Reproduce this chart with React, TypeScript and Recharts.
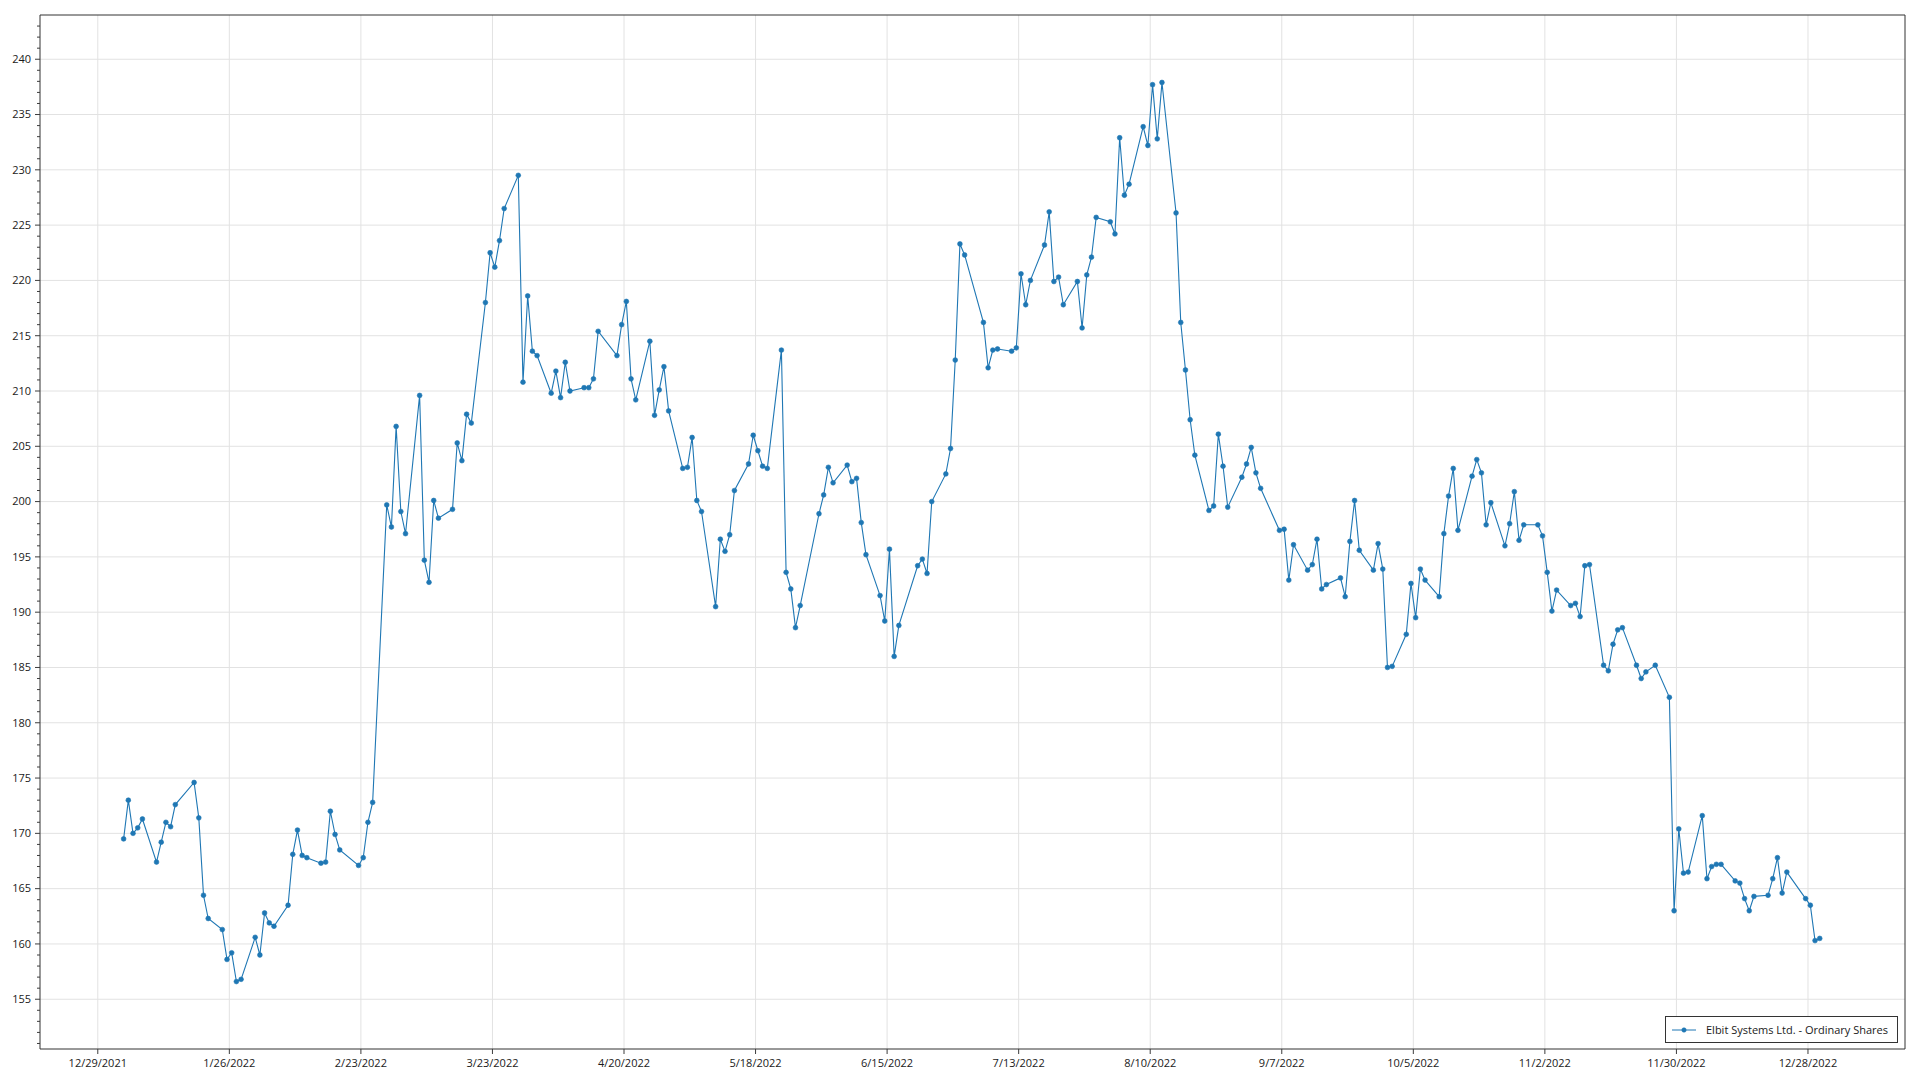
import React from 'react';
import { LineChart, Line, XAxis, YAxis, CartesianGrid, ReferenceArea } from 'recharts';

// trading days (day of month) per month of 2022 and closing prices
const TRADING_DAYS: number[][] = [
  [3, 4, 5, 6, 7, 10, 11, 12, 13, 14, 18, 19, 20, 21, 24, 25, 26, 27, 28, 31],
  [1, 2, 3, 4, 7, 8, 9, 10, 11, 14, 15, 16, 17, 18, 22, 23, 24, 25, 28],
  [1, 2, 3, 4, 7, 8, 9, 10, 11, 14, 15, 16, 17, 18, 21, 22, 23, 24, 25, 28, 29, 30, 31],
  [1, 4, 5, 6, 7, 8, 11, 12, 13, 14, 18, 19, 20, 21, 22, 25, 26, 27, 28, 29],
  [2, 3, 4, 5, 6, 9, 10, 11, 12, 13, 16, 17, 18, 19, 20, 23, 24, 25, 26, 27, 31],
  [1, 2, 3, 6, 7, 8, 9, 10, 13, 14, 15, 16, 17, 21, 22, 23, 24, 27, 28, 29, 30],
  [1, 5, 6, 7, 8, 11, 12, 13, 14, 15, 18, 19, 20, 21, 22, 25, 26, 27, 28, 29],
  [1, 2, 3, 4, 5, 8, 9, 10, 11, 12, 15, 16, 17, 18, 19, 22, 23, 24, 25, 26, 29, 30, 31],
  [1, 2, 6, 7, 8, 9, 12, 13, 14, 15, 16, 19, 20, 21, 22, 23, 26, 27, 28, 29, 30],
  [3, 4, 5, 6, 7, 10, 11, 12, 13, 14, 17, 18, 19, 20, 21, 24, 25, 26, 27, 28, 31],
  [1, 2, 3, 4, 7, 8, 9, 10, 11, 14, 15, 16, 17, 18, 21, 22, 23, 25, 28, 29, 30],
  [1, 2, 5, 6, 7, 8, 9, 12, 13, 14, 15, 16, 19, 20, 21, 22, 23, 27, 28, 29, 30],
];

const CLOSES: number[][] = [
  [169.5, 173.0, 170.0, 170.5, 171.3, 167.4, 169.2, 171.0, 170.6, 172.6, 174.6, 171.4, 164.4, 162.3, 161.3, 158.6, 159.2, 156.6, 156.8, 160.6],
  [159.0, 162.8, 161.9, 161.6, 163.5, 168.1, 170.3, 168.0, 167.8, 167.3, 167.4, 172.0, 169.9, 168.5, 167.1, 167.8, 171.0, 172.8, 199.7],
  [197.7, 206.8, 199.1, 197.1, 209.6, 194.7, 192.7, 200.1, 198.5, 199.3, 205.3, 203.7, 207.9, 207.1, 218.0, 222.5, 221.2, 223.6, 226.5, 229.5, 210.8, 218.6, 213.6],
  [213.2, 209.8, 211.8, 209.4, 212.6, 210.0, 210.3, 210.3, 211.1, 215.4, 213.2, 216.0, 218.1, 211.1, 209.2, 214.5, 207.8, 210.1, 212.2, 208.2],
  [203.0, 203.1, 205.8, 200.1, 199.1, 190.5, 196.6, 195.5, 197.0, 201.0, 203.4, 206.0, 204.6, 203.2, 203.0, 213.7, 193.6, 192.1, 188.6, 190.6, 198.9],
  [200.6, 203.1, 201.7, 203.3, 201.8, 202.1, 198.1, 195.2, 191.5, 189.2, 195.7, 186.0, 188.8, 194.2, 194.8, 193.5, 200.0, 202.5, 204.8, 212.8, 223.3],
  [222.3, 216.2, 212.1, 213.7, 213.8, 213.6, 213.9, 220.6, 217.8, 220.0, 223.2, 226.2, 219.9, 220.3, 217.8, 219.9, 215.7, 220.5, 222.1, 225.7],
  [225.3, 224.2, 232.9, 227.7, 228.7, 233.9, 232.2, 237.7, 232.8, 237.9, 226.1, 216.2, 211.9, 207.4, 204.2, 199.2, 199.6, 206.1, 203.2, 199.5, 202.2, 203.4, 204.9],
  [202.6, 201.2, 197.4, 197.5, 192.9, 196.1, 193.8, 194.3, 196.6, 192.1, 192.5, 193.1, 191.4, 196.4, 200.1, 195.6, 193.8, 196.2, 193.9, 185.0, 185.1],
  [188.0, 192.6, 189.5, 193.9, 192.9, 191.4, 197.1, 200.5, 203.0, 197.4, 202.3, 203.8, 202.6, 197.9, 199.9, 196.0, 198.0, 200.9, 196.5, 197.9, 197.9],
  [196.9, 193.6, 190.1, 192.0, 190.6, 190.8, 189.6, 194.2, 194.3, 185.2, 184.7, 187.1, 188.4, 188.6, 185.2, 184.0, 184.6, 185.2, 182.3, 163.0, 170.4],
  [166.4, 166.5, 171.6, 165.9, 167.0, 167.2, 167.2, 165.7, 165.5, 164.1, 163.0, 164.3, 164.4, 165.9, 167.8, 164.6, 166.5, 164.1, 163.5, 160.3, 160.5],
];

const SERIES_NAME = 'Elbit Systems Ltd. - Ordinary Shares';

const DAY = 86400000;
const X_ORIGIN = Date.UTC(2021, 11, 29);
const X_TICKS = Array.from({ length: 14 }, (_, i) => X_ORIGIN + i * 28 * DAY);
const X_MIN = X_ORIGIN - 12.3 * DAY;
const X_MAX = X_ORIGIN + 384.65 * DAY;

const Y_MIN = 150.5;
const Y_MAX = 244;
const Y_MAJOR = [155, 160, 165, 170, 175, 180, 185, 190, 195, 200, 205, 210, 215, 220, 225, 230, 235, 240];
const Y_ALL = Array.from({ length: 93 }, (_, i) => 151 + i);

const LINE_COLOR = '#1f77b4';
const FONT = "'Segoe UI', 'Open Sans', sans-serif";

// points sit at mid-day of each trading date
const data = TRADING_DAYS.flatMap((days, m) =>
  days.map((d, i) => ({ t: Date.UTC(2022, m, d) + DAY / 2, v: CLOSES[m][i] }))
);

const fmtDate = (t: number) => {
  const d = new Date(t);
  return `${d.getUTCMonth() + 1}/${d.getUTCDate()}/${d.getUTCFullYear()}`;
};

const YTick = (props: any) => {
  const { x, y, payload } = props;
  const axisX = x + 9;
  const v = payload.value;
  const major = v % 5 === 0;
  return (
    <g>
      <line x1={axisX - (major ? 5 : 3)} x2={axisX} y1={y} y2={y} stroke="#3c3c3c" strokeWidth={1} />
      {major && (
        <text x={x} y={y} dy="0.35em" textAnchor="end" fontSize={11} fill="#1a1a1a" fontFamily={FONT}>
          {v}
        </text>
      )}
    </g>
  );
};

const App: React.FC = () => {
  return (
    <div style={{ position: 'absolute', left: 0, top: 0, width: 1920, height: 1080, background: '#fff', fontFamily: FONT }}>
      <LineChart width={1920} height={1080} data={data} margin={{ top: 15, right: 15, left: 0, bottom: 0 }}>
        <CartesianGrid stroke="#e2e2e2" horizontalValues={Y_MAJOR} verticalValues={X_TICKS} />
        <XAxis
          dataKey="t"
          type="number"
          domain={[X_MIN, X_MAX]}
          ticks={X_TICKS}
          interval={0}
          allowDataOverflow
          tickFormatter={fmtDate}
          height={31}
          axisLine={false}
          tickSize={5}
          tickMargin={5}
          tickLine={{ stroke: '#3c3c3c' }}
          tick={{ fontSize: 11, fill: '#1a1a1a', fontFamily: FONT }}
        />
        <YAxis
          type="number"
          domain={[Y_MIN, Y_MAX]}
          ticks={Y_ALL}
          interval={0}
          allowDataOverflow
          width={40}
          axisLine={false}
          tickLine={false}
          tickSize={5}
          tickMargin={4}
          tick={<YTick />}
        />
        <ReferenceArea
          x1={X_MIN}
          x2={X_MAX}
          y1={Y_MIN}
          y2={Y_MAX}
          fill="none"
          stroke="#333"
          strokeWidth={1}
          ifOverflow="visible"
        />
        <Line
          type="linear"
          dataKey="v"
          name={SERIES_NAME}
          stroke={LINE_COLOR}
          strokeWidth={1.1}
          dot={{ r: 2.4, fill: LINE_COLOR, stroke: LINE_COLOR, strokeWidth: 0.6 }}
          activeDot={false}
          isAnimationActive={false}
        />
      </LineChart>
      <div
        style={{
          position: 'absolute',
          left: 1665,
          top: 1016,
          width: 233,
          height: 27,
          boxSizing: 'border-box',
          border: '1px solid #333',
          background: '#fff',
          display: 'flex',
          alignItems: 'center',
          fontSize: 11,
          color: '#1a1a1a',
        }}
      >
        <svg width={30} height={10} style={{ marginLeft: 6, marginRight: 4 }}>
          <line x1={0} x2={24} y1={5} y2={5} stroke={LINE_COLOR} strokeWidth={1} />
          <circle cx={12} cy={5} r={2.2} fill={LINE_COLOR} stroke={LINE_COLOR} strokeWidth={0.6} />
        </svg>
        <span>{SERIES_NAME}</span>
      </div>
    </div>
  );
};

export default App;
